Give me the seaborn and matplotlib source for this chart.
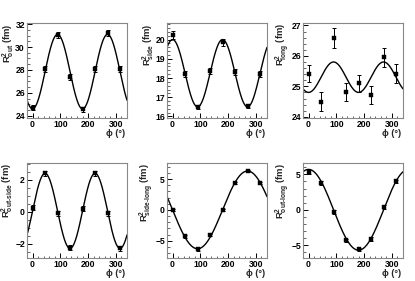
import numpy as np
import pandas as pd
import matplotlib
matplotlib.use("Agg")
import matplotlib.pyplot as plt
import seaborn as sns

sns.set_theme(style="white")
plt.rcParams['font.family'] = ['Liberation Sans', 'DejaVu Sans']
plt.rcParams['font.weight'] = 'bold'
plt.rcParams['mathtext.fontset'] = 'custom'
plt.rcParams['mathtext.rm'] = 'Liberation Sans:bold'
plt.rcParams['mathtext.bf'] = 'Liberation Sans:bold'
plt.rcParams['mathtext.it'] = 'Liberation Sans:bold'
plt.rcParams['mathtext.default'] = 'bf'

phi = [0, 45, 90, 135, 180, 225, 270, 315]

out_vals = [24.7, 28.1, 31.05, 27.4, 24.55, 28.1, 31.2, 28.1]
out_err = [0.2, 0.25, 0.25, 0.25, 0.2, 0.25, 0.25, 0.25]
side_vals = [20.25, 18.2, 16.5, 18.35, 19.85, 18.3, 16.55, 18.2]
side_err = [0.2, 0.15, 0.12, 0.15, 0.2, 0.15, 0.12, 0.15]
long_vals = [25.42, 24.5, 26.58, 24.82, 25.1, 24.72, 25.95, 25.42]
long_err = [0.28, 0.3, 0.32, 0.3, 0.28, 0.3, 0.3, 0.3]
os_vals = [0.25, 2.4, -0.1, -2.25, 0.2, 2.4, -0.1, -2.3]
os_err = [0.15, 0.15, 0.15, 0.15, 0.15, 0.15, 0.15, 0.15]
sl_vals = [0.0, -4.3, -6.4, -4.1, -0.05, 4.35, 6.3, 4.35]
sl_err = [0.2, 0.2, 0.2, 0.2, 0.2, 0.2, 0.2, 0.2]
ol_vals = [5.3, 3.8, -0.3, -4.3, -5.6, -4.1, 0.4, 4.0]
ol_err = [0.25, 0.25, 0.25, 0.25, 0.25, 0.25, 0.25, 0.25]

# fit parameters (offset, amplitude)
out_fit = (27.85, -3.25)   # cos(2phi)
side_fit = (18.25, 1.75)   # cos(2phi)
long_fit = (25.3, -0.5)    # cos(2phi)
os_fit = (0.05, 2.35)      # sin(2phi)
sl_fit = (0.0, -6.3)       # sin(phi)
ol_fit = (0.0, 5.7)        # cos(phi)

labels = ["R$^{2}_{out}$ (fm)", "R$^{2}_{side}$ (fm)",
          "R$^{2}_{long}$ (fm)", "R$^{2}_{out\u2010side}$ (fm)",
          "R$^{2}_{side\u2010long}$ (fm)", "R$^{2}_{out\u2010long}$ (fm)"]

panels = [
    (out_vals, out_err, out_fit, lambda p: np.cos(2 * p), (23.8, 32.1), [24, 26, 28, 30, 32], 0.5),
    (side_vals, side_err, side_fit, lambda p: np.cos(2 * p), (15.92, 20.86), [16, 17, 18, 19, 20], 0.2),
    (long_vals, long_err, long_fit, lambda p: np.cos(2 * p), (23.96, 27.08), [24, 25, 26, 27], 0.2),
    (os_vals, os_err, os_fit, lambda p: np.sin(2 * p), (-2.9, 3.05), [-2, 0, 2], 0.5),
    (sl_vals, sl_err, sl_fit, lambda p: np.sin(p), (-7.8, 7.6), [-5, 0, 5], 1.0),
    (ol_vals, ol_err, ol_fit, lambda p: np.cos(p), (-6.8, 6.6), [-5, 0, 5], 1.0),
]

fig = plt.figure(figsize=(4.15, 2.81), dpi=100)
W, H = 415, 281
lefts = [27, 167, 303]
width = 100
tops = [23, 163]
height = 95

grid = np.linspace(-20, 340, 400)
for i, (vals, err, fit, fn, ylim, yt, ymin) in enumerate(panels):
    r, c = divmod(i, 3)
    ax = fig.add_axes([lefts[c] / W, 1 - (tops[r] + height) / H, width / W, height / H])
    curve = pd.DataFrame({"phi": grid, "y": fit[0] + fit[1] * fn(np.radians(grid))})
    sns.lineplot(data=curve, x="phi", y="y", ax=ax, color="black", lw=1.0)
    pts = pd.DataFrame({"phi": phi, "y": vals})
    ax.errorbar(phi, vals, yerr=err, fmt="none", ecolor="black", elinewidth=0.7, capsize=1.2, capthick=0.7)
    sns.scatterplot(data=pts, x="phi", y="y", ax=ax, color="black", marker="s", s=10,
                    edgecolor="black", linewidth=0.3, zorder=5)
    ax.set_xlim(-20, 340)
    ax.set_ylim(*ylim)
    ax.set_xticks([0, 100, 200, 300])
    ax.set_yticks(yt)
    ax.set_xticks(np.arange(0, 341, 20), minor=True)
    ax.set_yticks(np.arange(np.ceil(ylim[0] / ymin) * ymin, ylim[1], ymin), minor=True)
    ax.tick_params(axis="both", which="major", direction="in", length=3.5, width=0.7, labelsize=6.2, pad=1.5,
                   top=False, right=False, bottom=True, left=True, colors="black")
    ax.tick_params(axis="both", which="minor", direction="in", length=1.8, width=0.5, bottom=True, left=True)
    for lab in ax.get_xticklabels() + ax.get_yticklabels():
        lab.set_fontweight("bold")
    for s in ax.spines.values():
        s.set_color("#888888")
        s.set_linewidth(0.8)
    ax.set_xlabel("ϕ (°)", fontsize=6.5, fontweight="bold")
    ax.xaxis.set_label_coords(0.98, -0.12)
    ax.xaxis.label.set_horizontalalignment("right")
    ax.xaxis.label.set_verticalalignment("top")
    ax.set_ylabel(labels[i], fontsize=6.8, fontweight="bold")
    ax.yaxis.set_label_coords(-0.115, 1.0)
    ax.yaxis.label.set_horizontalalignment("right")

fig.savefig("out.png", dpi=100)
